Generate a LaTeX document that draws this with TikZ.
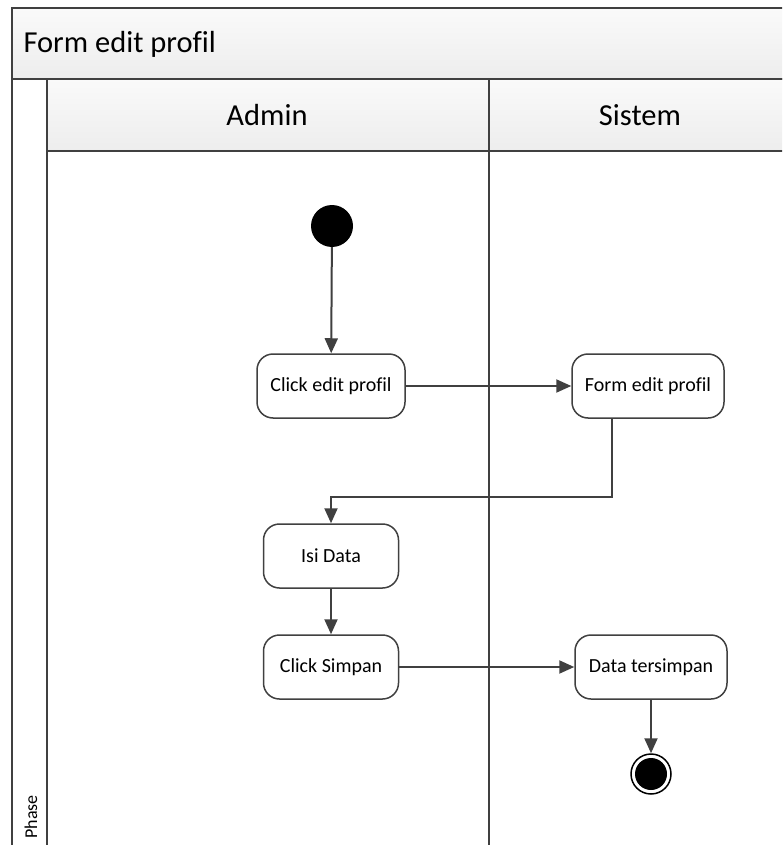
\documentclass[tikz,border=0pt]{standalone}
\usepackage{fontspec}
\setmainfont[Ligatures=NoCommon]{Carlito}
\usetikzlibrary{arrows.meta,calc}
\definecolor{linegray}{HTML}{404040}
\definecolor{headtop}{HTML}{FAFAFA}
\definecolor{headbot}{HTML}{EDEDED}
\begin{document}
\begin{tikzpicture}[x=1pt,y=-1pt,
  frame/.style={draw=linegray, line width=2},
  header/.style={frame, top color=headtop, bottom color=headbot},
  act/.style={draw=linegray, line width=1.5, rounded corners=16, fill=white,
    minimum height=64, inner sep=0, font=\fontsize{20}{24}\selectfont},
  flow/.style={draw=linegray, line width=2, -{Triangle[length=15,width=13]}},
  startnode/.style={circle, fill=black, minimum size=42, inner sep=0},
  endnode/.style={circle, draw=black, line width=1.5, fill=white, minimum size=40, inner sep=0}]
\useasboundingbox (0,0) rectangle (782,845);
\clip (0,0) rectangle (782,845);
\fill[white] (0,0) rectangle (782,845);

% swimlane frame
\path[header] (12,8) rectangle (800,79);
\path[header] (47,79) rectangle (800,151);
\draw[frame] (12,79) -- (12,870);
\draw[frame] (47,79) -- (47,870);
\draw[frame] (489,79) -- (489,870);
\node[anchor=west, font=\fontsize{30.5}{36}\selectfont] (title) at (20,44) {Form edit profil};
\node[font=\fontsize{30.5}{36}\selectfont] (laneA) at (267,115) {Admin};
\node[font=\fontsize{30.5}{36}\selectfont] (laneS) at (640,115) {Sistem};
\node[rotate=90, anchor=west, font=\fontsize{18}{22}\selectfont] (phase) at (31,842) {Phase};

% activities
\node[startnode] (start) at (332,226) {};
\node[act, minimum width=148] (clickedit) at (331,386) {Click edit profil};
\node[act, minimum width=152] (formedit) at (648,386) {Form edit profil};
\node[act, minimum width=135] (isi) at (331,556) {Isi Data};
\node[act, minimum width=135] (simpan) at (331,667) {Click Simpan};
\node[act, minimum width=152] (tersimpan) at (651,667) {Data tersimpan};
\node[endnode] (end) at (651,774) {};
\fill[black] (end.center) circle (16);

% flows
\coordinate (bend) at (331,497);
\draw[flow] (start) -- (clickedit);
\draw[flow] (clickedit) -- (formedit);
\draw[flow] ([xshift=-36]formedit.south) |- (bend) -- (isi.north);
\draw[flow] (isi) -- (simpan);
\draw[flow] (simpan) -- (tersimpan);
\draw[flow] (tersimpan) -- (end);
\end{tikzpicture}
\end{document}
